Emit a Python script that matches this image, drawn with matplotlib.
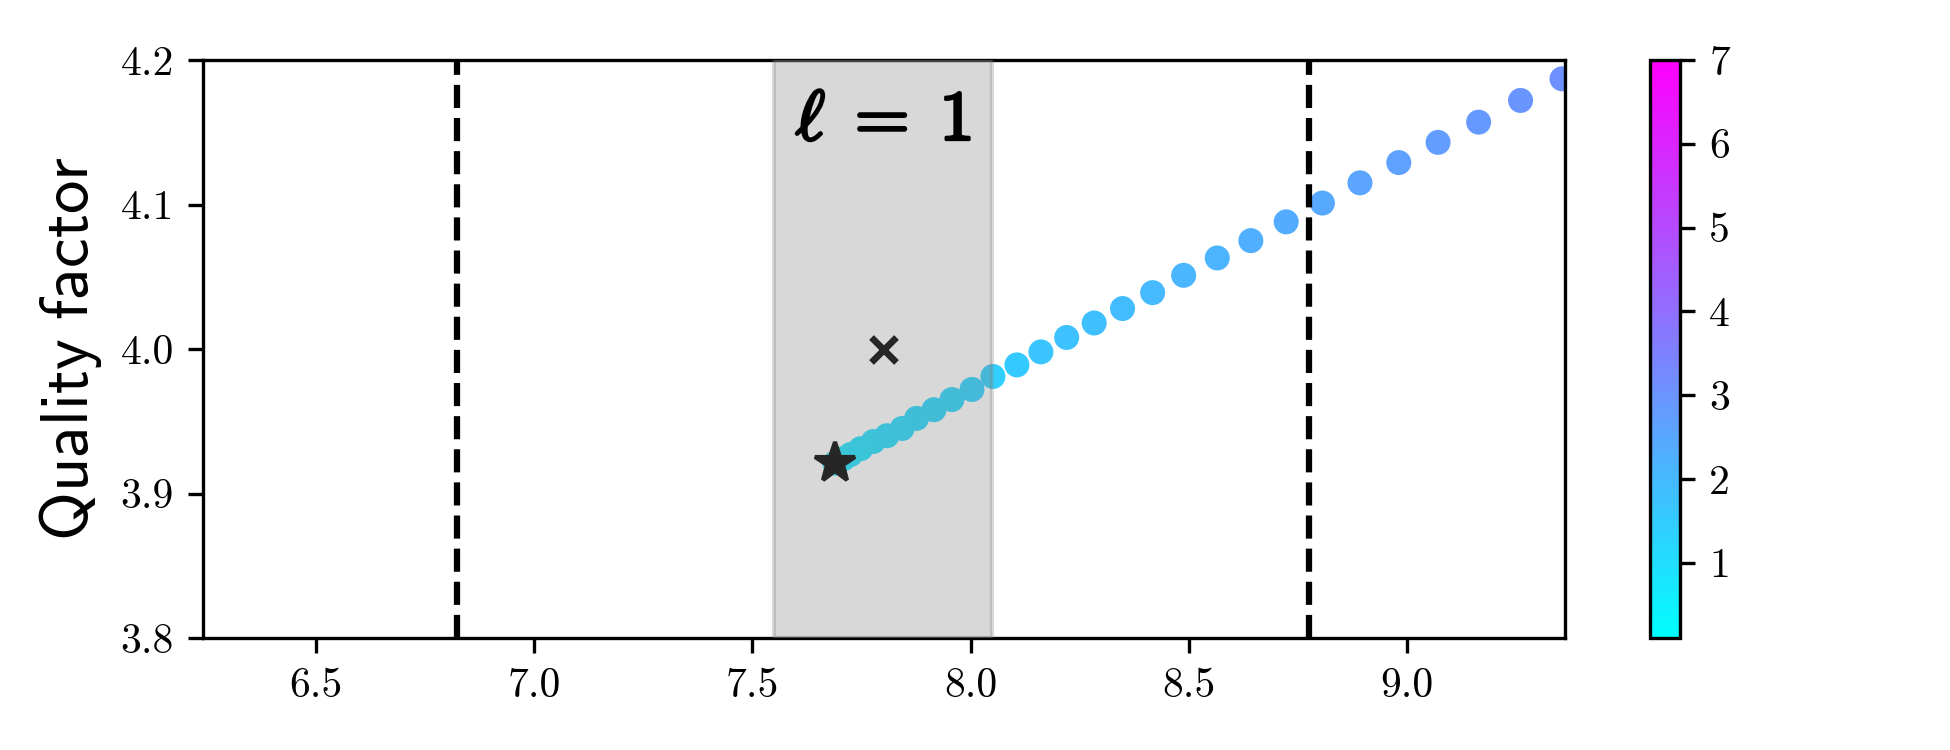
import matplotlib
matplotlib.use('Agg')
import matplotlib.pyplot as plt
import matplotlib.patheffects as pe

plt.rcParams['mathtext.fontset'] = 'cm'
plt.rcParams['font.family'] = ['cmr10', 'DejaVu Serif']
plt.rcParams['axes.unicode_minus'] = False

# data
freq = [7.689, 7.696, 7.708, 7.725, 7.748, 7.777, 7.808, 7.843, 7.876, 7.916,
        7.957, 8.003, 8.051, 8.106, 8.161, 8.220, 8.283, 8.348, 8.417, 8.488,
        8.565, 8.642, 8.723, 8.806, 8.892, 8.981, 9.071, 9.164, 9.260, 9.355]
qfac = [3.921, 3.922, 3.924, 3.927, 3.931, 3.936, 3.940, 3.945, 3.952, 3.958,
        3.965, 3.972, 3.981, 3.989, 3.998, 4.008, 4.018, 4.028, 4.039, 4.051,
        4.063, 4.075, 4.088, 4.101, 4.115, 4.129, 4.143, 4.157, 4.172, 4.187]
cval = [0.75, 0.78, 0.82, 0.86, 0.90, 0.95, 1.00, 1.05, 1.10, 1.16,
        1.22, 1.30, 1.40, 1.55, 1.68, 1.76, 1.84, 1.92, 2.00, 2.08,
        2.17, 2.26, 2.36, 2.46, 2.56, 2.66, 2.76, 2.86, 2.96, 3.06]

star_pt = (7.689, 3.921)
cross_pt = (7.80, 4.00)
band = (7.55, 8.05)
dashes = [6.823, 8.775]
cticks = [1, 2, 3, 4, 5, 6, 7]

fig = plt.figure(figsize=(6.5, 2.5), dpi=300)
ax = fig.add_axes([0.1041, 0.1493, 0.6985, 0.7707])
cax = fig.add_axes([0.8462, 0.1493, 0.0154, 0.7707])

sc = ax.scatter(freq, qfac, c=cval, cmap='cool', vmin=0.1, vmax=7,
                s=36, edgecolors='none', zorder=2)
ax.plot(*star_pt, marker='*', color='k', ms=10, ls='none', zorder=2.5)
ax.plot(*cross_pt, marker='x', color='k', ms=6, mew=1.6, ls='none', zorder=2.5)

ax.axvspan(*band, color='gray', alpha=0.3, lw=1, zorder=3)
for xd in dashes:
    ax.axvline(xd, color='k', ls='--', lw=1.5, zorder=4)

# bold look via a thin stroke
ax.text(7.8, 4.157, r'$\ell\;=\;1$', fontsize=17, ha='center', va='center',
        zorder=5, path_effects=[pe.withStroke(linewidth=0.7, foreground='k')])

ax.set_xlim(6.241, 9.362)
ax.set_ylim(3.8, 4.2)
ax.set_xticks([6.5, 7.0, 7.5, 8.0, 8.5, 9.0])
ax.set_yticks([3.8, 3.9, 4.0, 4.1, 4.2])
ax.tick_params(labelsize=10)
ax.set_ylabel(r'$\mathsf{Quality\ factor}$', fontsize=16)

cb = fig.colorbar(sc, cax=cax)
cb.set_ticks(cticks)
cb.ax.tick_params(labelsize=10)

fig.savefig('out.png', dpi=300)
